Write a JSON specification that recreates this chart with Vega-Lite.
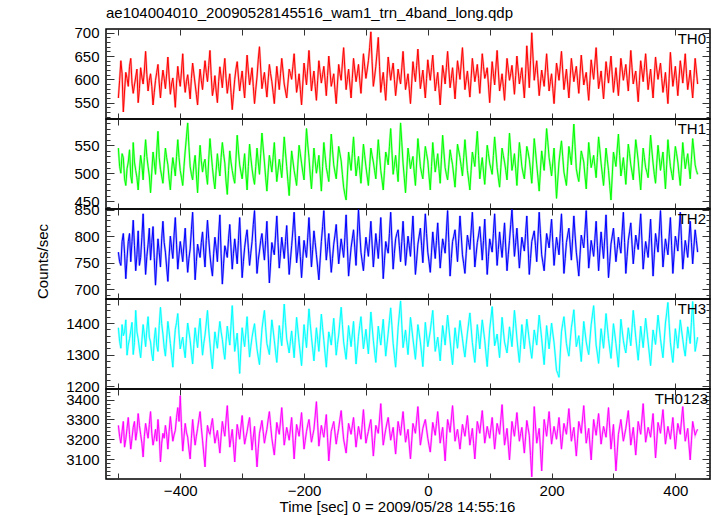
{
"$schema": "https://vega.github.io/schema/vega-lite/v6.json",
"background": "white",
"padding": {"left": 35, "top": 4, "right": 6, "bottom": 0},
"spacing": 0,
"bounds": "flush",
"config": {
 "font": "Liberation Sans",
 "view": {"stroke": "#000", "strokeWidth": 1.5},
 "axis": {"labelFont": "Liberation Sans", "labelFontSize": 15, "labelColor": "#000", "titleFont": "Liberation Sans", "titleFontSize": 15, "titleFontWeight": "normal", "titleColor": "#000", "domain": false, "grid": false, "tickColor": "#333", "tickWidth": 1, "labelOverlap": false, "labelBound": false},
 "concat": {"spacing": 0}
},
"datasets": {"lc": [
{"t":-500,"a":560,"b":545,"c":770,"d":1385,"e":3270},
{"t":-498,"a":598,"b":512,"c":752,"d":1342,"e":3215},
{"t":-496,"a":640,"b":500,"c":745,"d":1320,"e":3180},
{"t":-494,"a":612,"b":535,"c":790,"d":1395,"e":3240},
{"t":-492,"a":530,"b":528,"c":805,"d":1360,"e":3290},
{"t":-490,"a":575,"b":490,"c":768,"d":1372,"e":3160},
{"t":-488,"a":615,"b":478,"c":720,"d":1410,"e":3200},
{"t":-486,"a":602,"b":508,"c":758,"d":1298,"e":3255},
{"t":-484,"a":585,"b":520,"c":790,"d":1330,"e":3310},
{"t":-482,"a":628,"b":542,"c":805,"d":1350,"e":3225},
{"t":-480,"a":645,"b":495,"c":752,"d":1375,"e":3150},
{"t":-478,"a":592,"b":482,"c":790,"d":1402,"e":3205},
{"t":-476,"a":570,"b":555,"c":830,"d":1300,"e":3260},
{"t":-474,"a":588,"b":520,"c":782,"d":1338,"e":3290},
{"t":-472,"a":605,"b":505,"c":735,"d":1440,"e":3195},
{"t":-470,"a":622,"b":492,"c":765,"d":1372,"e":3240},
{"t":-468,"a":550,"b":470,"c":810,"d":1350,"e":3330},
{"t":-466,"a":580,"b":505,"c":745,"d":1318,"e":3270},
{"t":-464,"a":625,"b":532,"c":760,"d":1290,"e":3225},
{"t":-462,"a":605,"b":515,"c":798,"d":1345,"e":3180},
{"t":-460,"a":590,"b":488,"c":842,"d":1395,"e":3110},
{"t":-458,"a":618,"b":528,"c":780,"d":1362,"e":3215},
{"t":-456,"a":660,"b":560,"c":728,"d":1325,"e":3280},
{"t":-454,"a":610,"b":530,"c":762,"d":1380,"e":3240},
{"t":-452,"a":575,"b":512,"c":785,"d":1420,"e":3205},
{"t":-450,"a":598,"b":495,"c":815,"d":1355,"e":3275},
{"t":-448,"a":612,"b":465,"c":755,"d":1340,"e":3340},
{"t":-446,"a":585,"b":502,"c":788,"d":1302,"e":3230},
{"t":-444,"a":545,"b":538,"c":818,"d":1280,"e":3170},
{"t":-442,"a":572,"b":520,"c":760,"d":1348,"e":3205},
{"t":-440,"a":598,"b":498,"c":708,"d":1385,"e":3250},
{"t":-438,"a":615,"b":540,"c":755,"d":1330,"e":3190},
{"t":-436,"a":632,"b":575,"c":795,"d":1310,"e":3300},
{"t":-434,"a":592,"b":528,"c":770,"d":1392,"e":3225},
{"t":-432,"a":560,"b":507,"c":742,"d":1450,"e":3085},
{"t":-430,"a":595,"b":495,"c":795,"d":1398,"e":3180},
{"t":-428,"a":620,"b":482,"c":828,"d":1365,"e":3230},
{"t":-426,"a":602,"b":515,"c":788,"d":1322,"e":3205},
{"t":-424,"a":580,"b":545,"c":770,"d":1295,"e":3270},
{"t":-422,"a":612,"b":528,"c":742,"d":1350,"e":3225},
{"t":-420,"a":648,"b":515,"c":715,"d":1405,"e":3150},
{"t":-418,"a":605,"b":490,"c":762,"d":1372,"e":3240},
{"t":-416,"a":568,"b":470,"c":800,"d":1335,"e":3315},
{"t":-414,"a":590,"b":505,"c":778,"d":1298,"e":3250},
{"t":-412,"a":603,"b":528,"c":758,"d":1260,"e":3190},
{"t":-410,"a":575,"b":512,"c":802,"d":1330,"e":3222},
{"t":-408,"a":540,"b":495,"c":835,"d":1380,"e":3245},
{"t":-406,"a":592,"b":530,"c":785,"d":1402,"e":3310},
{"t":-404,"a":628,"b":560,"c":738,"d":1430,"e":3360},
{"t":-402,"a":602,"b":528,"c":765,"d":1365,"e":3290},
{"t":-400,"a":585,"b":505,"c":790,"d":1318,"e":3420},
{"t":-398,"a":618,"b":492,"c":772,"d":1340,"e":3260},
{"t":-396,"a":655,"b":478,"c":752,"d":1355,"e":3140},
{"t":-394,"a":600,"b":512,"c":785,"d":1318,"e":3212},
{"t":-392,"a":572,"b":540,"c":815,"d":1290,"e":3280},
{"t":-390,"a":595,"b":565,"c":768,"d":1352,"e":3235},
{"t":-388,"a":610,"b":590,"c":732,"d":1400,"e":3210},
{"t":-386,"a":585,"b":548,"c":758,"d":1372,"e":3150},
{"t":-384,"a":558,"b":512,"c":776,"d":1345,"e":3100},
{"t":-382,"a":602,"b":498,"c":812,"d":1305,"e":3205},
{"t":-380,"a":635,"b":488,"c":845,"d":1270,"e":3300},
{"t":-378,"a":612,"b":515,"c":780,"d":1332,"e":3228},
{"t":-376,"a":590,"b":532,"c":718,"d":1385,"e":3170},
{"t":-374,"a":568,"b":498,"c":752,"d":1352,"e":3215},
{"t":-372,"a":545,"b":465,"c":785,"d":1322,"e":3255},
{"t":-370,"a":590,"b":512,"c":772,"d":1378,"e":3298},
{"t":-368,"a":622,"b":550,"c":760,"d":1415,"e":3340},
{"t":-366,"a":598,"b":522,"c":788,"d":1352,"e":3260},
{"t":-364,"a":578,"b":502,"c":808,"d":1298,"e":3195},
{"t":-362,"a":612,"b":518,"c":770,"d":1335,"e":3125},
{"t":-360,"a":640,"b":525,"c":742,"d":1362,"e":3060},
{"t":-358,"a":615,"b":498,"c":792,"d":1400,"e":3180},
{"t":-356,"a":595,"b":480,"c":830,"d":1440,"e":3270},
{"t":-354,"a":630,"b":525,"c":795,"d":1378,"e":3240},
{"t":-352,"a":662,"b":562,"c":765,"d":1335,"e":3225},
{"t":-350,"a":608,"b":535,"c":742,"d":1290,"e":3270},
{"t":-348,"a":565,"b":510,"c":725,"d":1255,"e":3305},
{"t":-346,"a":582,"b":488,"c":768,"d":1318,"e":3238},
{"t":-344,"a":608,"b":472,"c":798,"d":1372,"e":3180},
{"t":-342,"a":575,"b":505,"c":778,"d":1345,"e":3212},
{"t":-340,"a":550,"b":535,"c":752,"d":1320,"e":3245},
{"t":-338,"a":595,"b":512,"c":802,"d":1368,"e":3188},
{"t":-336,"a":627,"b":495,"c":840,"d":1405,"e":3130},
{"t":-334,"a":605,"b":528,"c":768,"d":1372,"e":3215},
{"t":-332,"a":582,"b":555,"c":710,"d":1348,"e":3290},
{"t":-330,"a":618,"b":535,"c":748,"d":1312,"e":3250},
{"t":-328,"a":645,"b":518,"c":782,"d":1285,"e":3215},
{"t":-326,"a":602,"b":485,"c":772,"d":1342,"e":3298},
{"t":-324,"a":570,"b":462,"c":760,"d":1390,"e":3370},
{"t":-322,"a":592,"b":505,"c":795,"d":1358,"e":3262},
{"t":-320,"a":612,"b":540,"c":822,"d":1330,"e":3160},
{"t":-318,"a":572,"b":520,"c":778,"d":1392,"e":3205},
{"t":-316,"a":535,"b":505,"c":738,"d":1455,"e":3250},
{"t":-314,"a":568,"b":492,"c":768,"d":1378,"e":3172},
{"t":-312,"a":600,"b":482,"c":795,"d":1310,"e":3085},
{"t":-310,"a":622,"b":525,"c":772,"d":1340,"e":3188},
{"t":-308,"a":638,"b":568,"c":748,"d":1368,"e":3275},
{"t":-306,"a":605,"b":540,"c":792,"d":1302,"e":3238},
{"t":-304,"a":575,"b":515,"c":835,"d":1240,"e":3200},
{"t":-302,"a":598,"b":502,"c":778,"d":1318,"e":3262},
{"t":-300,"a":618,"b":490,"c":722,"d":1385,"e":3320},
{"t":-298,"a":588,"b":512,"c":752,"d":1352,"e":3242},
{"t":-296,"a":560,"b":535,"c":778,"d":1325,"e":3175},
{"t":-294,"a":608,"b":500,"c":798,"d":1372,"e":3208},
{"t":-292,"a":652,"b":470,"c":812,"d":1420,"e":3240},
{"t":-290,"a":618,"b":512,"c":778,"d":1352,"e":3278},
{"t":-288,"a":588,"b":552,"c":745,"d":1292,"e":3310},
{"t":-286,"a":605,"b":528,"c":768,"d":1325,"e":3225},
{"t":-284,"a":625,"b":508,"c":790,"d":1355,"e":3145},
{"t":-282,"a":585,"b":492,"c":822,"d":1378,"e":3210},
{"t":-280,"a":548,"b":480,"c":848,"d":1398,"e":3265},
{"t":-278,"a":578,"b":512,"c":788,"d":1355,"e":3158},
{"t":-276,"a":605,"b":545,"c":730,"d":1318,"e":3060},
{"t":-274,"a":642,"b":520,"c":755,"d":1292,"e":3152},
{"t":-272,"a":670,"b":498,"c":772,"d":1268,"e":3230},
{"t":-270,"a":622,"b":535,"c":792,"d":1325,"e":3262},
{"t":-268,"a":580,"b":572,"c":805,"d":1380,"e":3295},
{"t":-266,"a":598,"b":545,"c":778,"d":1412,"e":3238},
{"t":-264,"a":615,"b":520,"c":755,"d":1440,"e":3180},
{"t":-262,"a":588,"b":492,"c":792,"d":1385,"e":3218},
{"t":-260,"a":562,"b":468,"c":828,"d":1335,"e":3250},
{"t":-258,"a":598,"b":502,"c":768,"d":1318,"e":3298},
{"t":-256,"a":632,"b":532,"c":712,"d":1300,"e":3340},
{"t":-254,"a":612,"b":518,"c":750,"d":1355,"e":3270},
{"t":-252,"a":595,"b":502,"c":788,"d":1410,"e":3205},
{"t":-250,"a":572,"b":528,"c":775,"d":1378,"e":3162},
{"t":-248,"a":548,"b":555,"c":765,"d":1345,"e":3120},
{"t":-246,"a":590,"b":518,"c":802,"d":1308,"e":3202},
{"t":-244,"a":628,"b":485,"c":838,"d":1275,"e":3285},
{"t":-242,"a":602,"b":505,"c":788,"d":1332,"e":3252},
{"t":-240,"a":578,"b":525,"c":740,"d":1392,"e":3225},
{"t":-238,"a":612,"b":510,"c":768,"d":1360,"e":3292},
{"t":-236,"a":645,"b":492,"c":798,"d":1328,"e":3360},
{"t":-234,"a":618,"b":528,"c":778,"d":1395,"e":3265},
{"t":-232,"a":590,"b":565,"c":758,"d":1460,"e":3170},
{"t":-230,"a":575,"b":538,"c":790,"d":1402,"e":3215},
{"t":-228,"a":560,"b":512,"c":820,"d":1350,"e":3260},
{"t":-226,"a":592,"b":485,"c":772,"d":1328,"e":3228},
{"t":-224,"a":622,"b":460,"c":728,"d":1305,"e":3195},
{"t":-222,"a":612,"b":502,"c":755,"d":1342,"e":3252},
{"t":-220,"a":600,"b":540,"c":782,"d":1375,"e":3310},
{"t":-218,"a":628,"b":522,"c":812,"d":1332,"e":3205},
{"t":-216,"a":655,"b":505,"c":845,"d":1290,"e":3100},
{"t":-214,"a":612,"b":492,"c":798,"d":1355,"e":3192},
{"t":-212,"a":572,"b":478,"c":750,"d":1418,"e":3275},
{"t":-210,"a":590,"b":515,"c":772,"d":1378,"e":3245},
{"t":-208,"a":612,"b":550,"c":800,"d":1338,"e":3215},
{"t":-206,"a":578,"b":535,"c":762,"d":1302,"e":3272},
{"t":-204,"a":545,"b":518,"c":722,"d":1265,"e":3335},
{"t":-202,"a":590,"b":502,"c":758,"d":1330,"e":3242},
{"t":-200,"a":635,"b":488,"c":792,"d":1395,"e":3150},
{"t":-198,"a":612,"b":535,"c":775,"d":1358,"e":3195},
{"t":-196,"a":588,"b":580,"c":760,"d":1322,"e":3240},
{"t":-194,"a":625,"b":552,"c":798,"d":1385,"e":3272},
{"t":-192,"a":662,"b":528,"c":835,"d":1445,"e":3300},
{"t":-190,"a":618,"b":498,"c":788,"d":1398,"e":3242},
{"t":-188,"a":575,"b":472,"c":742,"d":1355,"e":3185},
{"t":-186,"a":598,"b":508,"c":775,"d":1318,"e":3218},
{"t":-184,"a":618,"b":545,"c":810,"d":1280,"e":3250},
{"t":-182,"a":585,"b":522,"c":788,"d":1332,"e":3318},
{"t":-180,"a":555,"b":500,"c":765,"d":1385,"e":3390},
{"t":-178,"a":598,"b":515,"c":742,"d":1348,"e":3278},
{"t":-176,"a":640,"b":532,"c":718,"d":1310,"e":3165},
{"t":-174,"a":615,"b":500,"c":755,"d":1368,"e":3218},
{"t":-172,"a":592,"b":468,"c":790,"d":1428,"e":3270},
{"t":-170,"a":610,"b":512,"c":818,"d":1385,"e":3238},
{"t":-168,"a":628,"b":555,"c":848,"d":1345,"e":3210},
{"t":-166,"a":598,"b":532,"c":798,"d":1302,"e":3268},
{"t":-164,"a":565,"b":510,"c":755,"d":1260,"e":3325},
{"t":-162,"a":608,"b":498,"c":780,"d":1318,"e":3208},
{"t":-160,"a":650,"b":485,"c":805,"d":1372,"e":3090},
{"t":-158,"a":618,"b":528,"c":768,"d":1352,"e":3168},
{"t":-156,"a":585,"b":570,"c":732,"d":1330,"e":3240},
{"t":-154,"a":598,"b":542,"c":758,"d":1372,"e":3265},
{"t":-152,"a":612,"b":515,"c":785,"d":1415,"e":3290},
{"t":-150,"a":578,"b":502,"c":802,"d":1358,"e":3232},
{"t":-148,"a":548,"b":490,"c":822,"d":1298,"e":3175},
{"t":-146,"a":590,"b":518,"c":785,"d":1332,"e":3218},
{"t":-144,"a":632,"b":548,"c":748,"d":1362,"e":3255},
{"t":-142,"a":612,"b":535,"c":772,"d":1405,"e":3302},
{"t":-140,"a":598,"b":522,"c":795,"d":1450,"e":3345},
{"t":-138,"a":635,"b":498,"c":778,"d":1395,"e":3268},
{"t":-136,"a":668,"b":475,"c":760,"d":1340,"e":3200},
{"t":-134,"a":622,"b":462,"c":798,"d":1312,"e":3165},
{"t":-132,"a":578,"b":452,"c":840,"d":1285,"e":3130},
{"t":-130,"a":600,"b":495,"c":782,"d":1338,"e":3205},
{"t":-128,"a":622,"b":538,"c":725,"d":1392,"e":3280},
{"t":-126,"a":590,"b":522,"c":752,"d":1358,"e":3252},
{"t":-124,"a":560,"b":505,"c":778,"d":1325,"e":3225},
{"t":-122,"a":602,"b":535,"c":795,"d":1365,"e":3268},
{"t":-120,"a":645,"b":565,"c":812,"d":1405,"e":3310},
{"t":-118,"a":620,"b":528,"c":778,"d":1338,"e":3235},
{"t":-116,"a":595,"b":495,"c":745,"d":1270,"e":3160},
{"t":-114,"a":612,"b":512,"c":798,"d":1312,"e":3212},
{"t":-112,"a":632,"b":530,"c":850,"d":1358,"e":3265},
{"t":-110,"a":598,"b":505,"c":808,"d":1392,"e":3232},
{"t":-108,"a":570,"b":482,"c":770,"d":1420,"e":3200},
{"t":-106,"a":612,"b":518,"c":752,"d":1368,"e":3275},
{"t":-104,"a":655,"b":552,"c":735,"d":1318,"e":3350},
{"t":-102,"a":628,"b":532,"c":768,"d":1348,"e":3262},
{"t":-100,"a":602,"b":512,"c":798,"d":1380,"e":3180},
{"t":-98,"a":620,"b":495,"c":780,"d":1340,"e":3212},
{"t":-96,"a":640,"b":478,"c":762,"d":1302,"e":3240},
{"t":-94,"a":668,"b":512,"c":795,"d":1368,"e":3272},
{"t":-92,"a":702,"b":545,"c":828,"d":1435,"e":3300},
{"t":-90,"a":638,"b":532,"c":785,"d":1390,"e":3208},
{"t":-88,"a":585,"b":520,"c":742,"d":1345,"e":3115},
{"t":-86,"a":605,"b":505,"c":772,"d":1308,"e":3192},
{"t":-84,"a":628,"b":490,"c":805,"d":1275,"e":3270},
{"t":-82,"a":658,"b":525,"c":782,"d":1332,"e":3250},
{"t":-80,"a":690,"b":560,"c":758,"d":1390,"e":3230},
{"t":-78,"a":628,"b":532,"c":795,"d":1358,"e":3302},
{"t":-76,"a":572,"b":505,"c":835,"d":1330,"e":3380},
{"t":-74,"a":595,"b":488,"c":778,"d":1372,"e":3272},
{"t":-72,"a":615,"b":470,"c":720,"d":1412,"e":3170},
{"t":-70,"a":585,"b":505,"c":755,"d":1352,"e":3212},
{"t":-68,"a":555,"b":538,"c":790,"d":1295,"e":3250},
{"t":-66,"a":602,"b":528,"c":778,"d":1332,"e":3282},
{"t":-64,"a":648,"b":515,"c":768,"d":1368,"e":3310},
{"t":-62,"a":622,"b":548,"c":805,"d":1408,"e":3252},
{"t":-60,"a":598,"b":580,"c":845,"d":1448,"e":3195},
{"t":-58,"a":618,"b":540,"c":792,"d":1392,"e":3228},
{"t":-56,"a":635,"b":498,"c":738,"d":1335,"e":3260},
{"t":-54,"a":600,"b":515,"c":768,"d":1298,"e":3192},
{"t":-52,"a":565,"b":532,"c":795,"d":1260,"e":3125},
{"t":-50,"a":592,"b":508,"c":805,"d":1322,"e":3208},
{"t":-48,"a":622,"b":485,"c":812,"d":1385,"e":3290},
{"t":-46,"a":605,"b":538,"c":782,"d":1428,"e":3255},
{"t":-44,"a":590,"b":590,"c":752,"d":1470,"e":3220},
{"t":-42,"a":625,"b":555,"c":790,"d":1395,"e":3282},
{"t":-40,"a":660,"b":518,"c":828,"d":1322,"e":3340},
{"t":-38,"a":618,"b":492,"c":788,"d":1350,"e":3262},
{"t":-36,"a":578,"b":465,"c":745,"d":1378,"e":3185},
{"t":-34,"a":595,"b":505,"c":772,"d":1338,"e":3218},
{"t":-32,"a":612,"b":545,"c":800,"d":1300,"e":3250},
{"t":-30,"a":580,"b":528,"c":782,"d":1358,"e":3172},
{"t":-28,"a":548,"b":508,"c":762,"d":1418,"e":3100},
{"t":-26,"a":592,"b":520,"c":800,"d":1385,"e":3192},
{"t":-24,"a":638,"b":530,"c":838,"d":1350,"e":3280},
{"t":-22,"a":615,"b":502,"c":782,"d":1318,"e":3255},
{"t":-20,"a":595,"b":478,"c":728,"d":1285,"e":3230},
{"t":-18,"a":630,"b":520,"c":755,"d":1340,"e":3298},
{"t":-16,"a":665,"b":562,"c":785,"d":1395,"e":3365},
{"t":-14,"a":622,"b":538,"c":800,"d":1368,"e":3268},
{"t":-12,"a":580,"b":512,"c":815,"d":1340,"e":3170},
{"t":-10,"a":600,"b":500,"c":782,"d":1302,"e":3212},
{"t":-8,"a":620,"b":490,"c":750,"d":1262,"e":3255},
{"t":-6,"a":590,"b":520,"c":798,"d":1332,"e":3278},
{"t":-4,"a":560,"b":548,"c":842,"d":1402,"e":3300},
{"t":-2,"a":602,"b":535,"c":805,"d":1362,"e":3252},
{"t":0,"a":642,"b":522,"c":770,"d":1325,"e":3205},
{"t":2,"a":618,"b":495,"c":752,"d":1350,"e":3168},
{"t":4,"a":598,"b":470,"c":732,"d":1375,"e":3135},
{"t":6,"a":625,"b":512,"c":770,"d":1408,"e":3210},
{"t":8,"a":652,"b":555,"c":808,"d":1440,"e":3285},
{"t":10,"a":612,"b":528,"c":782,"d":1372,"e":3252},
{"t":12,"a":575,"b":502,"c":758,"d":1310,"e":3220},
{"t":14,"a":595,"b":518,"c":792,"d":1332,"e":3280},
{"t":16,"a":615,"b":535,"c":825,"d":1355,"e":3340},
{"t":18,"a":580,"b":508,"c":782,"d":1318,"e":3262},
{"t":20,"a":545,"b":482,"c":740,"d":1280,"e":3180},
{"t":22,"a":588,"b":525,"c":768,"d":1338,"e":3222},
{"t":24,"a":630,"b":568,"c":795,"d":1392,"e":3260},
{"t":26,"a":612,"b":538,"c":782,"d":1362,"e":3175},
{"t":28,"a":590,"b":510,"c":768,"d":1330,"e":3090},
{"t":30,"a":625,"b":498,"c":808,"d":1378,"e":3198},
{"t":32,"a":660,"b":488,"c":848,"d":1425,"e":3300},
{"t":34,"a":620,"b":515,"c":788,"d":1385,"e":3270},
{"t":36,"a":582,"b":542,"c":725,"d":1345,"e":3235},
{"t":38,"a":602,"b":528,"c":758,"d":1305,"e":3302},
{"t":40,"a":625,"b":515,"c":790,"d":1268,"e":3370},
{"t":42,"a":592,"b":495,"c":800,"d":1328,"e":3282},
{"t":44,"a":558,"b":475,"c":812,"d":1385,"e":3190},
{"t":46,"a":598,"b":512,"c":782,"d":1352,"e":3222},
{"t":48,"a":640,"b":552,"c":752,"d":1320,"e":3250},
{"t":50,"a":620,"b":540,"c":795,"d":1365,"e":3200},
{"t":52,"a":600,"b":528,"c":838,"d":1408,"e":3150},
{"t":54,"a":635,"b":512,"c":802,"d":1378,"e":3212},
{"t":56,"a":668,"b":495,"c":765,"d":1350,"e":3275},
{"t":58,"a":622,"b":528,"c":748,"d":1318,"e":3245},
{"t":60,"a":578,"b":560,"c":730,"d":1292,"e":3215},
{"t":62,"a":598,"b":532,"c":768,"d":1332,"e":3268},
{"t":64,"a":618,"b":505,"c":802,"d":1368,"e":3320},
{"t":66,"a":590,"b":488,"c":788,"d":1400,"e":3245},
{"t":68,"a":562,"b":470,"c":775,"d":1432,"e":3170},
{"t":70,"a":602,"b":505,"c":810,"d":1385,"e":3212},
{"t":72,"a":645,"b":538,"c":845,"d":1338,"e":3255},
{"t":74,"a":620,"b":525,"c":795,"d":1305,"e":3178},
{"t":76,"a":595,"b":512,"c":742,"d":1275,"e":3100},
{"t":78,"a":612,"b":545,"c":765,"d":1335,"e":3195},
{"t":80,"a":632,"b":575,"c":788,"d":1395,"e":3290},
{"t":82,"a":602,"b":532,"c":802,"d":1358,"e":3262},
{"t":84,"a":570,"b":490,"c":818,"d":1318,"e":3230},
{"t":86,"a":612,"b":510,"c":788,"d":1365,"e":3288},
{"t":88,"a":655,"b":528,"c":755,"d":1410,"e":3345},
{"t":90,"a":628,"b":502,"c":792,"d":1378,"e":3262},
{"t":92,"a":602,"b":480,"c":832,"d":1345,"e":3180},
{"t":94,"a":612,"b":515,"c":780,"d":1302,"e":3222},
{"t":96,"a":625,"b":550,"c":728,"d":1262,"e":3265},
{"t":98,"a":588,"b":535,"c":762,"d":1322,"e":3235},
{"t":100,"a":550,"b":518,"c":795,"d":1380,"e":3205},
{"t":102,"a":595,"b":508,"c":782,"d":1415,"e":3258},
{"t":104,"a":638,"b":498,"c":770,"d":1452,"e":3310},
{"t":106,"a":612,"b":532,"c":805,"d":1390,"e":3232},
{"t":108,"a":588,"b":565,"c":842,"d":1328,"e":3150},
{"t":110,"a":625,"b":538,"c":792,"d":1345,"e":3215},
{"t":112,"a":662,"b":510,"c":745,"d":1365,"e":3280},
{"t":114,"a":618,"b":492,"c":775,"d":1328,"e":3252},
{"t":116,"a":575,"b":475,"c":808,"d":1290,"e":3225},
{"t":118,"a":592,"b":510,"c":782,"d":1352,"e":3300},
{"t":120,"a":612,"b":545,"c":760,"d":1418,"e":3375},
{"t":122,"a":585,"b":532,"c":792,"d":1378,"e":3272},
{"t":124,"a":555,"b":520,"c":825,"d":1340,"e":3170},
{"t":126,"a":602,"b":505,"c":778,"d":1322,"e":3212},
{"t":128,"a":645,"b":488,"c":735,"d":1305,"e":3255},
{"t":130,"a":622,"b":530,"c":765,"d":1345,"e":3175},
{"t":132,"a":598,"b":572,"c":792,"d":1388,"e":3095},
{"t":134,"a":612,"b":540,"c":822,"d":1358,"e":3192},
{"t":136,"a":630,"b":505,"c":850,"d":1325,"e":3290},
{"t":138,"a":600,"b":518,"c":805,"d":1382,"e":3252},
{"t":140,"a":568,"b":535,"c":762,"d":1440,"e":3215},
{"t":142,"a":608,"b":508,"c":788,"d":1398,"e":3275},
{"t":144,"a":650,"b":478,"c":815,"d":1352,"e":3335},
{"t":146,"a":620,"b":518,"c":778,"d":1312,"e":3262},
{"t":148,"a":590,"b":555,"c":740,"d":1275,"e":3190},
{"t":150,"a":608,"b":535,"c":770,"d":1332,"e":3228},
{"t":152,"a":625,"b":512,"c":798,"d":1395,"e":3260},
{"t":154,"a":592,"b":500,"c":785,"d":1358,"e":3195},
{"t":156,"a":560,"b":490,"c":772,"d":1318,"e":3130},
{"t":158,"a":612,"b":518,"c":805,"d":1365,"e":3212},
{"t":160,"a":672,"b":548,"c":838,"d":1412,"e":3295},
{"t":162,"a":628,"b":538,"c":782,"d":1378,"e":3258},
{"t":164,"a":582,"b":525,"c":728,"d":1345,"e":3220},
{"t":166,"a":640,"b":505,"c":758,"d":1315,"e":3118},
{"t":168,"a":700,"b":482,"c":790,"d":1288,"e":3010},
{"t":170,"a":648,"b":522,"c":800,"d":1332,"e":3188},
{"t":172,"a":598,"b":562,"c":810,"d":1378,"e":3365},
{"t":174,"a":620,"b":540,"c":782,"d":1355,"e":3272},
{"t":176,"a":640,"b":515,"c":752,"d":1330,"e":3180},
{"t":178,"a":602,"b":492,"c":798,"d":1378,"e":3218},
{"t":180,"a":565,"b":468,"c":845,"d":1425,"e":3255},
{"t":182,"a":592,"b":505,"c":805,"d":1388,"e":3148},
{"t":184,"a":620,"b":540,"c":765,"d":1350,"e":3040},
{"t":186,"a":602,"b":522,"c":750,"d":1308,"e":3172},
{"t":188,"a":585,"b":505,"c":735,"d":1268,"e":3300},
{"t":190,"a":620,"b":542,"c":770,"d":1330,"e":3258},
{"t":192,"a":655,"b":580,"c":805,"d":1392,"e":3215},
{"t":194,"a":615,"b":555,"c":792,"d":1355,"e":3278},
{"t":196,"a":575,"b":528,"c":778,"d":1318,"e":3340},
{"t":198,"a":595,"b":512,"c":805,"d":1358,"e":3258},
{"t":200,"a":612,"b":495,"c":832,"d":1400,"e":3175},
{"t":202,"a":580,"b":520,"c":788,"d":1368,"e":3222},
{"t":204,"a":548,"b":545,"c":745,"d":1338,"e":3265},
{"t":206,"a":592,"b":500,"c":772,"d":1295,"e":3232},
{"t":208,"a":635,"b":455,"c":798,"d":1250,"e":3200},
{"t":210,"a":618,"b":488,"c":782,"d":1240,"e":3255},
{"t":212,"a":598,"b":520,"c":765,"d":1228,"e":3310},
{"t":214,"a":628,"b":540,"c":805,"d":1302,"e":3230},
{"t":216,"a":660,"b":558,"c":842,"d":1372,"e":3150},
{"t":218,"a":618,"b":530,"c":788,"d":1398,"e":3215},
{"t":220,"a":578,"b":502,"c":730,"d":1420,"e":3280},
{"t":222,"a":600,"b":490,"c":758,"d":1378,"e":3252},
{"t":224,"a":622,"b":478,"c":788,"d":1335,"e":3225},
{"t":226,"a":590,"b":512,"c":802,"d":1312,"e":3290},
{"t":228,"a":560,"b":548,"c":815,"d":1295,"e":3355},
{"t":230,"a":602,"b":532,"c":785,"d":1342,"e":3272},
{"t":232,"a":645,"b":515,"c":755,"d":1385,"e":3190},
{"t":234,"a":620,"b":552,"c":795,"d":1412,"e":3228},
{"t":236,"a":595,"b":588,"c":838,"d":1442,"e":3260},
{"t":238,"a":612,"b":548,"c":802,"d":1382,"e":3188},
{"t":240,"a":628,"b":508,"c":770,"d":1325,"e":3115},
{"t":242,"a":598,"b":495,"c":748,"d":1342,"e":3202},
{"t":244,"a":570,"b":485,"c":725,"d":1360,"e":3290},
{"t":246,"a":612,"b":512,"c":765,"d":1318,"e":3262},
{"t":248,"a":652,"b":540,"c":802,"d":1278,"e":3230},
{"t":250,"a":620,"b":530,"c":790,"d":1342,"e":3302},
{"t":252,"a":588,"b":520,"c":778,"d":1405,"e":3370},
{"t":254,"a":602,"b":495,"c":812,"d":1372,"e":3275},
{"t":256,"a":615,"b":472,"c":848,"d":1340,"e":3180},
{"t":258,"a":585,"b":512,"c":795,"d":1318,"e":3218},
{"t":260,"a":555,"b":555,"c":740,"d":1300,"e":3255},
{"t":262,"a":598,"b":532,"c":765,"d":1348,"e":3172},
{"t":264,"a":642,"b":510,"c":792,"d":1395,"e":3095},
{"t":266,"a":620,"b":520,"c":778,"d":1425,"e":3198},
{"t":268,"a":600,"b":532,"c":762,"d":1455,"e":3300},
{"t":270,"a":635,"b":512,"c":795,"d":1392,"e":3258},
{"t":272,"a":668,"b":492,"c":828,"d":1330,"e":3220},
{"t":274,"a":622,"b":528,"c":782,"d":1302,"e":3275},
{"t":276,"a":580,"b":565,"c":735,"d":1272,"e":3330},
{"t":278,"a":598,"b":542,"c":772,"d":1328,"e":3252},
{"t":280,"a":618,"b":518,"c":808,"d":1382,"e":3175},
{"t":282,"a":588,"b":498,"c":782,"d":1352,"e":3222},
{"t":284,"a":558,"b":478,"c":758,"d":1320,"e":3265},
{"t":286,"a":598,"b":512,"c":798,"d":1375,"e":3238},
{"t":288,"a":638,"b":545,"c":840,"d":1430,"e":3210},
{"t":290,"a":615,"b":525,"c":782,"d":1390,"e":3285},
{"t":292,"a":592,"b":505,"c":722,"d":1350,"e":3360},
{"t":294,"a":622,"b":478,"c":752,"d":1318,"e":3255},
{"t":296,"a":650,"b":452,"c":785,"d":1288,"e":3150},
{"t":298,"a":610,"b":495,"c":800,"d":1342,"e":3212},
{"t":300,"a":572,"b":538,"c":815,"d":1398,"e":3275},
{"t":302,"a":598,"b":525,"c":782,"d":1368,"e":3158},
{"t":304,"a":625,"b":512,"c":752,"d":1335,"e":3040},
{"t":306,"a":595,"b":542,"c":775,"d":1298,"e":3132},
{"t":308,"a":565,"b":570,"c":798,"d":1260,"e":3225},
{"t":310,"a":605,"b":532,"c":782,"d":1335,"e":3262},
{"t":312,"a":645,"b":495,"c":768,"d":1412,"e":3300},
{"t":314,"a":622,"b":510,"c":808,"d":1378,"e":3245},
{"t":316,"a":598,"b":528,"c":845,"d":1345,"e":3190},
{"t":318,"a":615,"b":505,"c":788,"d":1322,"e":3222},
{"t":320,"a":632,"b":480,"c":730,"d":1305,"e":3255},
{"t":322,"a":602,"b":518,"c":762,"d":1345,"e":3300},
{"t":324,"a":575,"b":552,"c":792,"d":1385,"e":3345},
{"t":326,"a":618,"b":535,"c":808,"d":1358,"e":3258},
{"t":328,"a":662,"b":515,"c":825,"d":1328,"e":3170},
{"t":330,"a":625,"b":502,"c":785,"d":1385,"e":3215},
{"t":332,"a":590,"b":488,"c":748,"d":1440,"e":3260},
{"t":334,"a":605,"b":525,"c":775,"d":1398,"e":3192},
{"t":336,"a":618,"b":560,"c":802,"d":1355,"e":3120},
{"t":338,"a":585,"b":542,"c":788,"d":1318,"e":3205},
{"t":340,"a":552,"b":522,"c":775,"d":1282,"e":3290},
{"t":342,"a":598,"b":495,"c":808,"d":1335,"e":3258},
{"t":344,"a":640,"b":470,"c":842,"d":1390,"e":3225},
{"t":346,"a":618,"b":508,"c":792,"d":1355,"e":3302},
{"t":348,"a":595,"b":545,"c":738,"d":1322,"e":3380},
{"t":350,"a":625,"b":528,"c":765,"d":1368,"e":3282},
{"t":352,"a":655,"b":510,"c":790,"d":1415,"e":3185},
{"t":354,"a":615,"b":502,"c":775,"d":1378,"e":3222},
{"t":356,"a":578,"b":492,"c":760,"d":1340,"e":3260},
{"t":358,"a":600,"b":530,"c":795,"d":1302,"e":3238},
{"t":360,"a":622,"b":568,"c":832,"d":1265,"e":3210},
{"t":362,"a":590,"b":542,"c":778,"d":1322,"e":3272},
{"t":364,"a":560,"b":518,"c":725,"d":1378,"e":3330},
{"t":366,"a":605,"b":498,"c":765,"d":1355,"e":3218},
{"t":368,"a":648,"b":482,"c":805,"d":1332,"e":3105},
{"t":370,"a":622,"b":518,"c":788,"d":1378,"e":3192},
{"t":372,"a":600,"b":550,"c":770,"d":1425,"e":3285},
{"t":374,"a":618,"b":528,"c":808,"d":1388,"e":3258},
{"t":376,"a":635,"b":505,"c":848,"d":1350,"e":3230},
{"t":378,"a":602,"b":522,"c":795,"d":1318,"e":3292},
{"t":380,"a":572,"b":538,"c":742,"d":1290,"e":3350},
{"t":382,"a":592,"b":505,"c":768,"d":1345,"e":3262},
{"t":384,"a":615,"b":472,"c":795,"d":1400,"e":3175},
{"t":386,"a":580,"b":515,"c":780,"d":1432,"e":3222},
{"t":388,"a":548,"b":560,"c":765,"d":1465,"e":3265},
{"t":390,"a":602,"b":535,"c":800,"d":1398,"e":3232},
{"t":392,"a":658,"b":512,"c":835,"d":1338,"e":3200},
{"t":394,"a":620,"b":500,"c":782,"d":1305,"e":3255},
{"t":396,"a":585,"b":488,"c":730,"d":1275,"e":3310},
{"t":398,"a":605,"b":520,"c":765,"d":1328,"e":3228},
{"t":400,"a":628,"b":548,"c":800,"d":1382,"e":3150},
{"t":402,"a":598,"b":535,"c":788,"d":1352,"e":3218},
{"t":404,"a":565,"b":520,"c":772,"d":1320,"e":3280},
{"t":406,"a":602,"b":498,"c":808,"d":1365,"e":3252},
{"t":408,"a":640,"b":478,"c":845,"d":1410,"e":3225},
{"t":410,"a":618,"b":518,"c":792,"d":1378,"e":3298},
{"t":412,"a":592,"b":555,"c":738,"d":1348,"e":3365},
{"t":414,"a":622,"b":530,"c":765,"d":1318,"e":3272},
{"t":416,"a":655,"b":508,"c":792,"d":1295,"e":3190},
{"t":418,"a":612,"b":522,"c":778,"d":1342,"e":3222},
{"t":420,"a":578,"b":535,"c":760,"d":1388,"e":3255},
{"t":422,"a":598,"b":512,"c":795,"d":1362,"e":3172},
{"t":424,"a":620,"b":490,"c":828,"d":1335,"e":3095},
{"t":426,"a":590,"b":525,"c":788,"d":1402,"e":3192},
{"t":428,"a":560,"b":562,"c":748,"d":1468,"e":3290},
{"t":430,"a":602,"b":540,"c":780,"d":1388,"e":3255},
{"t":432,"a":645,"b":515,"c":812,"d":1310,"e":3220},
{"t":434,"a":618,"b":505,"c":792,"d":1332,"e":3238},
{"t":436,"a":590,"b":498,"c":770,"d":1355,"e":3250}
]},
"vconcat": [
 {
  "width": 604, "height": 90,
  "title": {"text": "ae104004010_20090528145516_wam1_trn_4band_long.qdp", "anchor": "start", "frame": "group", "font": "Liberation Sans", "fontSize": 15, "fontWeight": "normal", "color": "#000", "offset": 5},
  "layer": [
   {"data": {"name": "lc"}, "mark": {"type": "line", "color": "#ff0000", "strokeWidth": 2.2, "opacity": 0.35, "clip": true},
    "encoding": {
     "x": {"field": "t", "type": "quantitative", "scale": {"domain": [-520, 456], "nice": false, "zero": false}, "axis": {"orient": "bottom", "title": null, "labels": false, "values": [-500,-400,-300,-200,-100,0,100,200,300,400], "tickSize": -6}},
     "y": {"field": "a", "type": "quantitative", "scale": {"domain": [515, 708], "nice": false, "zero": false}, "axis": {"orient": "left", "title": null, "format": "d", "values": [520,530,540,550,560,570,580,590,600,610,620,630,640,650,660,670,680,690,700], "tickSize": {"condition": {"test": "datum.value % 50 === 0", "value": -8}, "value": -4}, "labelExpr": "datum.value % 50 === 0 ? datum.label : ''", "labelPadding": 15}}
    }},
   {"data": {"name": "lc"}, "mark": {"type": "line", "color": "#ff0000", "strokeWidth": 1, "clip": true},
    "encoding": {
     "x": {"field": "t", "type": "quantitative", "axis": {"orient": "top", "title": null, "labels": false, "values": [-500,-400,-300,-200,-100,0,100,200,300,400], "tickSize": -6}},
     "y": {"field": "a", "type": "quantitative", "axis": {"orient": "right", "title": null, "labels": false, "values": [520,530,540,550,560,570,580,590,600,610,620,630,640,650,660,670,680,690,700], "tickSize": {"condition": {"test": "datum.value % 50 === 0", "value": -8}, "value": -4}}}
    }},
   {"data": {"values": [{"label": "TH0", "x": 456, "y": 708}]}, "mark": {"type": "text", "align": "right", "baseline": "top", "dx": -4, "dy": 3, "font": "Liberation Sans", "fontSize": 15, "color": "#000"},
    "encoding": {"x": {"field": "x", "type": "quantitative", "axis": null}, "y": {"field": "y", "type": "quantitative", "axis": null}, "text": {"field": "label"}}}
  ],
  "resolve": {"axis": {"x": "independent", "y": "independent"}}
 },
 {
  "width": 604, "height": 90,
  "layer": [
   {"data": {"name": "lc"}, "mark": {"type": "line", "color": "#00ff00", "strokeWidth": 2.2, "opacity": 0.35, "clip": true},
    "encoding": {
     "x": {"field": "t", "type": "quantitative", "scale": {"domain": [-520, 456], "nice": false, "zero": false}, "axis": {"orient": "bottom", "title": null, "labels": false, "values": [-500,-400,-300,-200,-100,0,100,200,300,400], "tickSize": -6}},
     "y": {"field": "b", "type": "quantitative", "scale": {"domain": [436, 597], "nice": false, "zero": false}, "axis": {"orient": "left", "title": null, "format": "d", "values": [440,450,460,470,480,490,500,510,520,530,540,550,560,570,580,590], "tickSize": {"condition": {"test": "datum.value % 50 === 0", "value": -8}, "value": -4}, "labelExpr": "datum.value % 50 === 0 ? datum.label : ''", "labelPadding": 15}}
    }},
   {"data": {"name": "lc"}, "mark": {"type": "line", "color": "#00ff00", "strokeWidth": 1, "clip": true},
    "encoding": {
     "x": {"field": "t", "type": "quantitative", "axis": {"orient": "top", "title": null, "labels": false, "values": [-500,-400,-300,-200,-100,0,100,200,300,400], "tickSize": -6}},
     "y": {"field": "b", "type": "quantitative", "axis": {"orient": "right", "title": null, "labels": false, "values": [440,450,460,470,480,490,500,510,520,530,540,550,560,570,580,590], "tickSize": {"condition": {"test": "datum.value % 50 === 0", "value": -8}, "value": -4}}}
    }},
   {"data": {"values": [{"label": "TH1", "x": 456, "y": 597}]}, "mark": {"type": "text", "align": "right", "baseline": "top", "dx": -4, "dy": 3, "font": "Liberation Sans", "fontSize": 15, "color": "#000"},
    "encoding": {"x": {"field": "x", "type": "quantitative", "axis": null}, "y": {"field": "y", "type": "quantitative", "axis": null}, "text": {"field": "label"}}}
  ],
  "resolve": {"axis": {"x": "independent", "y": "independent"}}
 },
 {
  "width": 604, "height": 90,
  "layer": [
   {"data": {"name": "lc"}, "mark": {"type": "line", "color": "#0000ff", "strokeWidth": 2.2, "opacity": 0.35, "clip": true},
    "encoding": {
     "x": {"field": "t", "type": "quantitative", "scale": {"domain": [-520, 456], "nice": false, "zero": false}, "axis": {"orient": "bottom", "title": null, "labels": false, "values": [-500,-400,-300,-200,-100,0,100,200,300,400], "tickSize": -6}},
     "y": {"field": "c", "type": "quantitative", "scale": {"domain": [682, 851], "nice": false, "zero": false}, "axis": {"orient": "left", "title": "Counts/sec", "titlePadding": 23, "titleY": 52, "format": "d", "values": [690,700,710,720,730,740,750,760,770,780,790,800,810,820,830,840,850], "tickSize": {"condition": {"test": "datum.value % 50 === 0", "value": -8}, "value": -4}, "labelExpr": "datum.value % 50 === 0 ? datum.label : ''", "labelPadding": 15}}
    }},
   {"data": {"name": "lc"}, "mark": {"type": "line", "color": "#0000ff", "strokeWidth": 1, "clip": true},
    "encoding": {
     "x": {"field": "t", "type": "quantitative", "axis": {"orient": "top", "title": null, "labels": false, "values": [-500,-400,-300,-200,-100,0,100,200,300,400], "tickSize": -6}},
     "y": {"field": "c", "type": "quantitative", "axis": {"orient": "right", "title": null, "labels": false, "values": [690,700,710,720,730,740,750,760,770,780,790,800,810,820,830,840,850], "tickSize": {"condition": {"test": "datum.value % 50 === 0", "value": -8}, "value": -4}}}
    }},
   {"data": {"values": [{"label": "TH2", "x": 456, "y": 851}]}, "mark": {"type": "text", "align": "right", "baseline": "top", "dx": -4, "dy": 3, "font": "Liberation Sans", "fontSize": 15, "color": "#000"},
    "encoding": {"x": {"field": "x", "type": "quantitative", "axis": null}, "y": {"field": "y", "type": "quantitative", "axis": null}, "text": {"field": "label"}}}
  ],
  "resolve": {"axis": {"x": "independent", "y": "independent"}}
 },
 {
  "width": 604, "height": 90,
  "layer": [
   {"data": {"name": "lc"}, "mark": {"type": "line", "color": "#00ffff", "strokeWidth": 2.2, "opacity": 0.35, "clip": true},
    "encoding": {
     "x": {"field": "t", "type": "quantitative", "scale": {"domain": [-520, 456], "nice": false, "zero": false}, "axis": {"orient": "bottom", "title": null, "labels": false, "values": [-500,-400,-300,-200,-100,0,100,200,300,400], "tickSize": -6}},
     "y": {"field": "d", "type": "quantitative", "scale": {"domain": [1191, 1476], "nice": false, "zero": false}, "axis": {"orient": "left", "title": null, "format": "d", "values": [1200,1220,1240,1260,1280,1300,1320,1340,1360,1380,1400,1420,1440,1460], "tickSize": {"condition": {"test": "datum.value % 100 === 0", "value": -8}, "value": -4}, "labelExpr": "datum.value % 100 === 0 ? datum.label : ''", "labelPadding": 15}}
    }},
   {"data": {"name": "lc"}, "mark": {"type": "line", "color": "#00ffff", "strokeWidth": 1, "clip": true},
    "encoding": {
     "x": {"field": "t", "type": "quantitative", "axis": {"orient": "top", "title": null, "labels": false, "values": [-500,-400,-300,-200,-100,0,100,200,300,400], "tickSize": -6}},
     "y": {"field": "d", "type": "quantitative", "axis": {"orient": "right", "title": null, "labels": false, "values": [1200,1220,1240,1260,1280,1300,1320,1340,1360,1380,1400,1420,1440,1460], "tickSize": {"condition": {"test": "datum.value % 100 === 0", "value": -8}, "value": -4}}}
    }},
   {"data": {"values": [{"label": "TH3", "x": 456, "y": 1476}]}, "mark": {"type": "text", "align": "right", "baseline": "top", "dx": -4, "dy": 3, "font": "Liberation Sans", "fontSize": 15, "color": "#000"},
    "encoding": {"x": {"field": "x", "type": "quantitative", "axis": null}, "y": {"field": "y", "type": "quantitative", "axis": null}, "text": {"field": "label"}}}
  ],
  "resolve": {"axis": {"x": "independent", "y": "independent"}}
 },
 {
  "width": 604, "height": 90,
  "layer": [
   {"data": {"name": "lc"}, "mark": {"type": "line", "color": "#ff00ff", "strokeWidth": 2.2, "opacity": 0.35, "clip": true},
    "encoding": {
     "x": {"field": "t", "type": "quantitative", "scale": {"domain": [-520, 456], "nice": false, "zero": false}, "axis": {"orient": "bottom", "title": "Time [sec] 0 = 2009/05/28 14:55:16", "titlePadding": 1, "titleX": 291, "values": [-500,-400,-300,-200,-100,0,100,200,300,400], "tickSize": -6, "labelExpr": "datum.value % 200 === 0 ? datum.label : ''", "labelPadding": 10}},
     "y": {"field": "e", "type": "quantitative", "scale": {"domain": [2999, 3454], "nice": false, "zero": false}, "axis": {"orient": "left", "title": null, "format": "d", "values": [3000,3020,3040,3060,3080,3100,3120,3140,3160,3180,3200,3220,3240,3260,3280,3300,3320,3340,3360,3380,3400,3420,3440], "tickSize": {"condition": {"test": "datum.value % 100 === 0", "value": -8}, "value": -4}, "labelExpr": "datum.value % 100 === 0 && datum.value > 3000 ? datum.label : ''", "labelPadding": 15}}
    }},
   {"data": {"name": "lc"}, "mark": {"type": "line", "color": "#ff00ff", "strokeWidth": 1, "clip": true},
    "encoding": {
     "x": {"field": "t", "type": "quantitative", "axis": {"orient": "top", "title": null, "labels": false, "values": [-500,-400,-300,-200,-100,0,100,200,300,400], "tickSize": -6}},
     "y": {"field": "e", "type": "quantitative", "axis": {"orient": "right", "title": null, "labels": false, "values": [3000,3020,3040,3060,3080,3100,3120,3140,3160,3180,3200,3220,3240,3260,3280,3300,3320,3340,3360,3380,3400,3420,3440], "tickSize": {"condition": {"test": "datum.value % 100 === 0", "value": -8}, "value": -4}}}
    }},
   {"data": {"values": [{"label": "TH0123", "x": 456, "y": 3454}]}, "mark": {"type": "text", "align": "right", "baseline": "top", "dx": -2, "dy": 3, "font": "Liberation Sans", "fontSize": 15, "color": "#000"},
    "encoding": {"x": {"field": "x", "type": "quantitative", "axis": null}, "y": {"field": "y", "type": "quantitative", "axis": null}, "text": {"field": "label"}}}
  ],
  "resolve": {"axis": {"x": "independent", "y": "independent"}}
 }
]
}
